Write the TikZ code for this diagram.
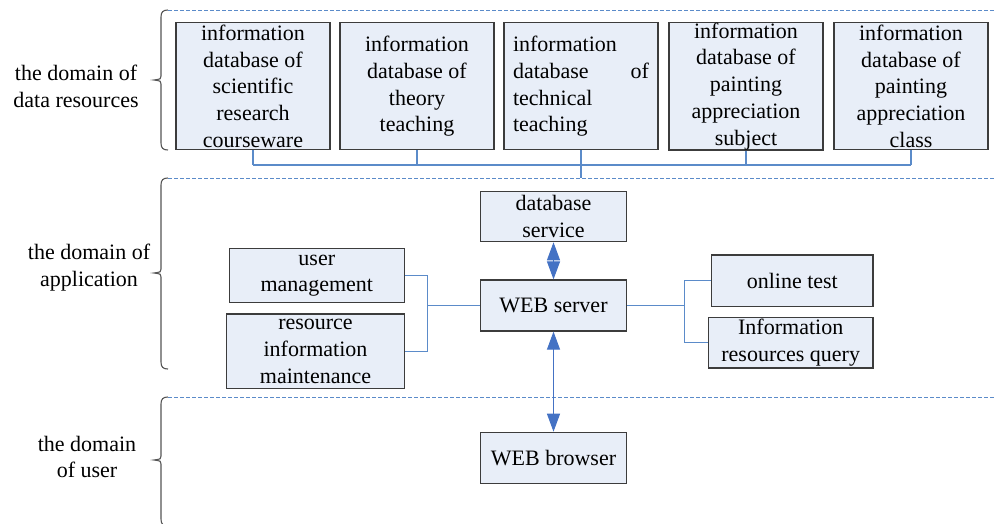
\documentclass[tikz,border=0pt]{standalone}
\usepackage{fontspec}
\setmainfont{Liberation Serif}
\usetikzlibrary{arrows.meta}
\definecolor{boxfill}{HTML}{E8EEF8}
\definecolor{boxline}{HTML}{3C3C3C}
\definecolor{linkblue}{HTML}{5B8BC9}
\definecolor{arrowblue}{HTML}{4472C4}
\definecolor{bracegray}{HTML}{555555}
% curly brace on the left of a domain: top, tip, bottom
\newcommand\domainbrace[3]{%
  \draw[brace] (168,#1) .. controls (163,#1) and (161,#1+2) .. (161,#1+7)
    -- (161,#2-4) .. controls (161,#2-1) .. (154,#2)
    .. controls (161,#2+1) .. (161,#2+4)
    -- (161,#3-7) .. controls (161,#3-2) and (163,#3) .. (168,#3);}
\begin{document}
\begin{tikzpicture}[x=1pt,y=-1pt,
  font=\fontsize{22}{26.8}\selectfont,
  box/.style={draw=boxline, fill=boxfill, line width=1.2pt, inner xsep=4pt, inner ysep=0pt, align=center},
  link/.style={draw=linkblue, line width=1.1pt},
  zone/.style={draw=linkblue, line width=0.9pt, dash pattern=on 4pt off 2pt},
  brace/.style={draw=bracegray, line width=1.1pt},
  dbl/.style={draw=arrowblue, line width=1.1pt,
    {Triangle[length=18pt,width=13pt,fill=arrowblue]}-{Triangle[length=18pt,width=13pt,fill=arrowblue]}},
  domainlabel/.style={align=center},
  topbox/.style={box, minimum width=154pt, minimum height=127pt}
]
\useasboundingbox (0,0) rectangle (995,523);

% domain separators
\coordinate (z1s) at (168,10);  \coordinate (z1e) at (995,10);
\coordinate (z2s) at (168,178); \coordinate (z2e) at (995,178);
\coordinate (z3s) at (168,397); \coordinate (z3e) at (995,397);
\draw[zone] (z1s) -- (z1e);
\draw[zone] (z2s) -- (z2e);
\draw[zone] (z3s) -- (z3e);
\domainbrace{10}{80}{150}
\domainbrace{178}{273}{369}
\domainbrace{397}{460}{526}

% domain labels
\node[domainlabel] (l1) at (76,86.5) {the domain of\\data resources};
\node[domainlabel] (l2) at (89,267.5) {the domain of\\application};
\node[domainlabel] (l3) at (87,457) {the domain\\of user};

% data resources
\node[topbox] (b1) at (253,86.3) {information\\database of\\scientific\\research\\courseware};
\node[topbox] (b2) at (417,86.3) {information\\database of\\theory\\teaching};
\node[topbox, text width=136pt, inner xsep=9pt, align=left] (b3) at (581,86.3)
  {information\\database\hfill of\\technical\\teaching};
\node[topbox] (b4) at (746,86.3) {information\\database of\\painting\\appreciation\\subject};
\node[topbox] (b5) at (911,86.3) {information\\database of\\painting\\appreciation\\class};

\coordinate (bus) at (0,165);
\foreach \b in {b1,b2,b3,b4,b5} \draw[link] (\b.south) -- (\b.south |- bus);
\draw[link] (b1.south |- bus) -- (b5.south |- bus);
\draw[link] (b3.south) -- (b3.south |- z2s);

% application
\node[box, minimum width=146pt, minimum height=50pt] (db) at (553.5,216.7) {database\\service};
\node[box, minimum width=146pt, minimum height=51pt] (ws) at (553.5,305.5) {WEB server};
\node[box, minimum width=175pt, minimum height=54pt] (um) at (316.8,275.7) {user\\management};
\node[box, minimum width=177.6pt, minimum height=74.3pt] (rm) at (315.5,351.2) {resource\\information\\maintenance};
\node[box, minimum width=161.3pt, minimum height=51.7pt] (ot) at (792.3,280.8) {online test};
\node[box, minimum width=164.7pt, minimum height=50.3pt] (iq) at (790.7,342.8) {Information\\resources query};

\coordinate (jl) at (427.7,305.5);
\coordinate (jr) at (684.6,305.5);
\draw[link] (um.east) -| (jl) |- (rm.east);
\draw[link] (jl) -- (ws.west);
\draw[link] (ot.west) -| (jr) |- (iq.west);
\draw[link] (ws.east) -- (jr);
\draw[dbl] (db.south) -- (ws.north);

% user
\node[box, minimum width=146.7pt, minimum height=51pt] (wb) at (553.5,457.8) {WEB browser};
\draw[dbl] (ws.south) -- (wb.north);
\end{tikzpicture}
\end{document}
